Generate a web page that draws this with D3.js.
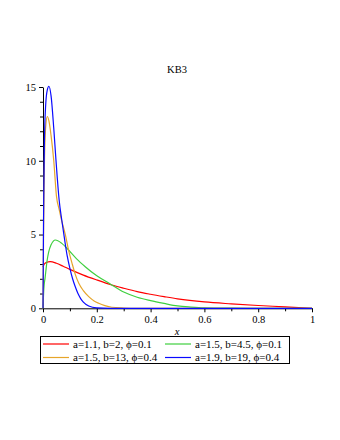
<!DOCTYPE html>
<html>
<head>
<meta charset="utf-8">
<script src="https://cdn.jsdelivr.net/npm/d3@7"></script>
<style>
  body { margin: 0; background: #fff; }
  svg text { font-family: "Liberation Serif", "Times New Roman", serif; }
</style>
</head>
<body>
<svg id="chart" width="340" height="440"></svg>
<script>
// values, as [x, density] pairs
const redCurve = [[0, 2.8], [0.005, 3.0], [0.012, 3.1], [0.027, 3.16], [0.05, 3.05], [0.075, 2.85], [0.1, 2.64],
  [0.15, 2.25], [0.2, 1.92], [0.256, 1.58], [0.3, 1.36], [0.35, 1.13], [0.4, 0.95], [0.45, 0.79], [0.5, 0.64],
  [0.6, 0.43], [0.7, 0.3], [0.8, 0.19], [0.9, 0.1], [1, 0]];
const greenCurve = [[0, 0], [0.003, 1.3], [0.008, 2.1], [0.015, 3.2], [0.021, 3.8], [0.03, 4.3], [0.046, 4.63],
  [0.07, 4.4], [0.095, 3.95], [0.125, 3.35], [0.157, 2.82], [0.2, 2.2], [0.25, 1.65], [0.3, 1.1], [0.35, 0.75],
  [0.4, 0.52], [0.45, 0.33], [0.5, 0.16], [0.55, 0.08], [0.6, 0.03], [0.7, 0.01], [0.8, 0], [1, 0]];
const orangeCurve = [[0, 0], [0.002, 5], [0.005, 9.5], [0.01, 12.3], [0.016, 13.0], [0.022, 12.7], [0.03, 11.7],
  [0.04, 10.0], [0.05, 7.6], [0.06, 6.7], [0.07, 5.9], [0.083, 5.0], [0.095, 3.95], [0.108, 3.05], [0.12, 2.3],
  [0.133, 1.69], [0.15, 1.2], [0.17, 0.79], [0.19, 0.5], [0.207, 0.34], [0.23, 0.18], [0.256, 0.07],
  [0.3, 0.02], [0.35, 0], [1, 0]];
const blueCurve = [[0, 0], [0.002, 6], [0.005, 11], [0.01, 13.8], [0.016, 14.8], [0.022, 15.05], [0.03, 14.4],
  [0.04, 12.2], [0.048, 10.1], [0.06, 7.34], [0.07, 5.95], [0.08, 4.7], [0.09, 3.55], [0.1, 2.7], [0.11, 2.0],
  [0.12, 1.46], [0.13, 1.0], [0.14, 0.66], [0.15, 0.42], [0.17, 0.16], [0.2, 0.03], [0.25, 0], [1, 0]];

const seriesLabels = ["a=1.1, b=2, \u03d5=0.1", "a=1.5, b=4.5, \u03d5=0.1", "a=1.5, b=13, \u03d5=0.4", "a=1.9, b=19, \u03d5=0.4"];
const seriesColors = ["#ff0000", "#3fcf3f", "#e6a52a", "#0a0aff"];
const xTicks = [0, 0.2, 0.4, 0.6, 0.8, 1];
const yTicks = [0, 5, 10, 15];

const svg = d3.select("#chart");
const x = d3.scaleLinear().domain([0, 1]).range([43, 312]);
const y = d3.scaleLinear().domain([0, 15]).range([308.3, 87]);

// title
svg.append("text")
    .attr("x", 177).attr("y", 73)
    .attr("text-anchor", "middle")
    .attr("font-size", 10.5)
    .text("KB3");

// minor ticks first so the major axes sit on top
svg.append("g")
    .attr("transform", "translate(0,308.3)")
    .call(d3.axisBottom(x).tickValues(d3.range(0.1, 1, 0.2)).tickSize(3).tickFormat(""))
    .call(g => g.select(".domain").remove());
svg.append("g")
    .attr("transform", "translate(43,0)")
    .call(d3.axisLeft(y).tickValues(d3.range(1, 15).filter(d => d % 5 !== 0)).tickSize(3).tickFormat(""))
    .call(g => g.select(".domain").remove());

const xAxis = svg.append("g")
    .attr("transform", "translate(0,308.3)")
    .call(d3.axisBottom(x).tickValues(xTicks).tickSize(4).tickSizeOuter(0).tickPadding(3)
        .tickFormat(d => d === 0 || d === 1 ? d : d.toFixed(1)));
const yAxis = svg.append("g")
    .attr("transform", "translate(43,0)")
    .call(d3.axisLeft(y).tickValues(yTicks).tickSize(4).tickSizeOuter(0).tickPadding(3));
[xAxis, yAxis].forEach(a => a.selectAll("text").attr("font-size", 10.5).attr("fill", "#000"));
svg.selectAll(".tick line, .domain").attr("stroke", "#000");

// x label
svg.append("text")
    .attr("x", 177).attr("y", 335)
    .attr("text-anchor", "middle")
    .attr("font-size", 10.5)
    .attr("font-style", "italic")
    .text("x");

// curves
const line = d3.line()
    .x(d => x(d[0]))
    .y(d => y(d[1]))
    .curve(d3.curveMonotoneX);

[redCurve, greenCurve, orangeCurve, blueCurve].forEach((data, i) => {
    svg.append("path")
        .datum(data)
        .attr("fill", "none")
        .attr("stroke", seriesColors[i])
        .attr("stroke-width", 1.2)
        .attr("d", line);
});

// legend
const legend = svg.append("g");
legend.append("rect")
    .attr("x", 40.5).attr("y", 336.5)
    .attr("width", 249).attr("height", 27)
    .attr("fill", "#fff").attr("stroke", "#000");

seriesLabels.forEach((label, i) => {
    const col = i % 2, row = Math.floor(i / 2);
    const lx = col === 0 ? 43 : 165;
    const ly = row === 0 ? 344 : 357.5;
    legend.append("line")
        .attr("x1", lx).attr("x2", lx + 26)
        .attr("y1", ly).attr("y2", ly)
        .attr("stroke", seriesColors[i]).attr("stroke-width", 1.2);
    legend.append("text")
        .attr("x", lx + 30).attr("y", ly + 3.6)
        .attr("font-size", 11)
        .text(label);
});
</script>
</body>
</html>
